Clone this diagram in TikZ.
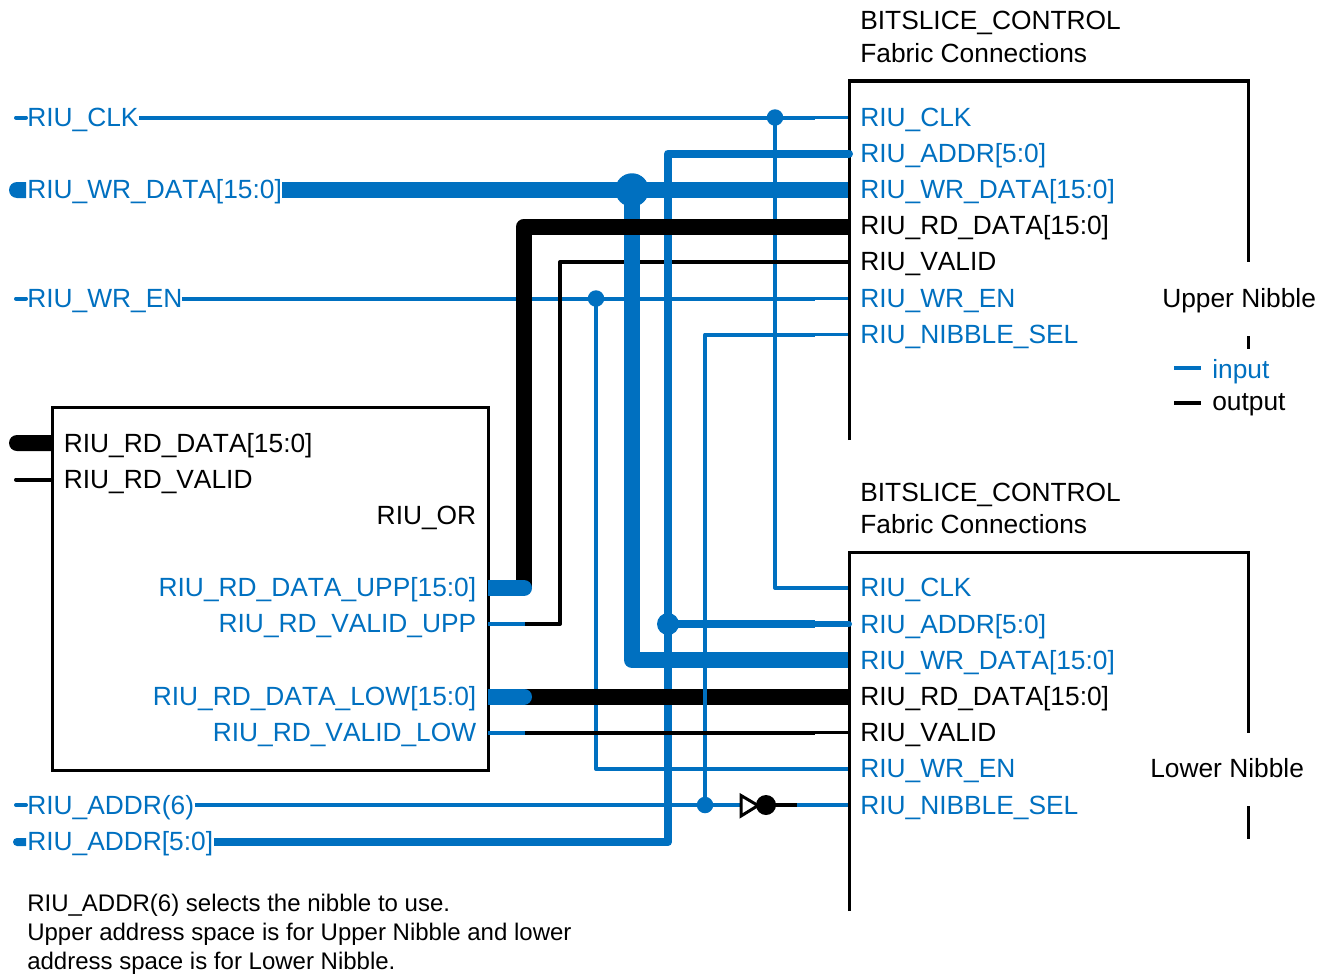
\documentclass[tikz,border=0pt]{standalone}
\usepackage{fontspec}
\setmainfont[Kerning=Off]{Liberation Sans}
\definecolor{riublue}{HTML}{0070C0}
\tikzset{
  wire/.style={line width=3pt,line join=round},
  wireb/.style={line width=6pt,line join=round},
  wirew/.style={line width=12pt,line join=round},
  stub/.style={line width=2.5pt},
  frame/.style={line width=2.25pt,black,line join=miter},
  blu/.style={draw=riublue},
  blk/.style={draw=black},
  dotb/.style={circle,fill=riublue,inner sep=0pt,minimum size=#1},
  lab/.style={inner sep=0pt,anchor=base west,font=\fontsize{19.75}{24}\selectfont,text=black},
  labr/.style={lab,anchor=base east},
  note/.style={inner sep=0pt,anchor=base west,font=\fontsize{18}{22}\selectfont,text=black},
  inp/.style={text=riublue}
}
\begin{document}
\begin{tikzpicture}[x=0.75pt,y=-0.75pt]
\useasboundingbox (0,0) rectangle (1330,974);
% ---------- junction and end coordinates
\foreach \n/\y in {a/117.5,b/153.5,c/190,d/226.5,e/262,f/298.5,g/334.5,
                   p/588,q/624,r/660,s/696.5,t/732.5,u/769,v/805}{
  \coordinate (\n M) at (815,\y);
  \coordinate (\n E) at (848,\y);
}
\coordinate (clkL) at (139,117.5);
\coordinate (clkJ) at (775,117.5);
\coordinate (clkC) at (775,588);
\coordinate (wenL) at (182,298.5);
\coordinate (wenJ) at (596,298.5);
\coordinate (wenC) at (596,769);
\coordinate (vuS)  at (488,624);
\coordinate (vuM)  at (525,624);
\coordinate (vuC)  at (560,624);
\coordinate (vuT)  at (560,262);
\coordinate (wdL)  at (282,190);
\coordinate (wdJ)  at (632,190);
\coordinate (wdC)  at (632,660);
\coordinate (adL)  at (214,842);
\coordinate (adC)  at (668,842);
\coordinate (adT)  at (668,153.5);
\coordinate (adJ)  at (668,624);
\coordinate (duS)  at (488,588);
\coordinate (duC)  at (524,588);
\coordinate (duT)  at (524,226.5);
\coordinate (dlS)  at (488,696.5);
\coordinate (dlC)  at (524,696.5);
\coordinate (vlS)  at (488,732.5);
\coordinate (vlM)  at (525,732.5);
\coordinate (a6L)  at (195,805);
\coordinate (a6J)  at (705,805);
\coordinate (a6I)  at (741,805);
\coordinate (a6B)  at (766,805);
\coordinate (a6M)  at (797,805);
\coordinate (selT) at (705,334.5);
% ---------- left stubs
\draw[wire,blu,line cap=round] (16,117.5) coordinate (l1) -- (26,117.5) coordinate (l1e);
\draw[wire,blu,line cap=round] (16,298.5) coordinate (l2) -- (26,298.5) coordinate (l2e);
\draw[wire,blu,line cap=round] (16,805) coordinate (l3) -- (26,805) coordinate (l3e);
\fill[riublue] (26,182) -- (17,182) arc (270:90:8) -- (26,198) -- cycle;
\fill[riublue] (26,838) -- (17,838) arc (270:90:4) -- (26,846) -- cycle;
\fill[black] (52,435) -- (17,435) arc (270:90:8) -- (52,451) -- cycle;
\draw[wire,blk,line cap=round] (16,479.5) coordinate (l4) -- (52,479.5) coordinate (l4e);
% ---------- frames
\draw[frame] (849,440) -- (849,81) -- (1248,81) -- (1248,262);
\draw[frame] (1248,336) -- (1248,349);
\draw[frame] (849,911) -- (849,552) -- (1248,552) -- (1248,733);
\draw[frame] (1248,806) -- (1248,839);
\node[draw,line width=2.25pt,outer sep=0pt,minimum width=436*0.75pt,minimum height=363*0.75pt,inner sep=0pt,anchor=north west] (orbox) at (52,407) {};
% ---------- wires, back to front
\draw[wire,blu] (clkL) -- (clkJ) -- (aM);
\draw[stub,blu] (aM) -- (aE);
\draw[wire,blu] (clkJ) -- (clkC) -- (pM);
\draw[stub,blu] (pM) -- (pE);
\draw[wire,blu] (wenL) -- (fM);
\draw[stub,blu] (fM) -- (fE);
\draw[wire,blu] (wenJ) -- (wenC) -- (uM);
\draw[stub,blu] (uM) -- (uE);
\draw[wire,blu] (vuS) -- (vuM);
\draw[wire,blk] (vuM) -- (vuC) -- (vuT) -- (eM);
\draw[stub,blk] (eM) -- (eE);
\draw[wirew,blu] (wdL) -- (cE);
\draw[wirew,blu] (wdJ) -- (wdC) -- (rE);
\draw[wireb,blu] (adL) -- (adC) -- (adT) -- (bM);
\draw[wireb,blu,line cap=round] (bM) -- (849,153.5) coordinate (bX);
\draw[wireb,blu] (adJ) -- (qM);
\draw[line width=4.5pt,blu,line cap=round] (qM) -- (849,624) coordinate (qX);
\draw[wirew,blk] (duC) -- (duT) -- (dE);
\draw[wirew,blk] (dlC) -- (sE);
\draw[wirew,blu,line cap=round] (duC) -- (506,588) coordinate (duH);
\draw[wirew,blu] (duS) -- (duH);
\draw[wirew,blu,line cap=round] (dlC) -- (506,696.5) coordinate (dlH);
\draw[wirew,blu] (dlS) -- (dlH);
\draw[wire,blu] (a6L) -- (a6I);
\draw[wire,blu] (gM) -- (selT) -- (a6J);
\draw[stub,blu] (gM) -- (gE);
\draw[wire,blu] (vlS) -- (vlM);
\draw[wire,blk] (vlM) -- (tM);
\draw[stub,blk] (tM) -- (tE);
\draw[wire,blk] (a6B) -- (a6M);
\draw[wire,blu] (a6M) -- (vM);
\draw[stub,blu] (vM) -- (vE);
% ---------- dots and inverter
\node[dotb=16.5*0.75pt] (j1) at (clkJ) {};
\node[dotb=16.5*0.75pt] (j2) at (wenJ) {};
\node[dotb=16.5*0.75pt] (j3) at (a6J) {};
\node[dotb=33.5*0.75pt] (j4) at (wdJ) {};
\node[dotb=22*0.75pt] (j5) at (adJ) {};
\draw[fill=white,line width=2.25pt,line join=miter] (741,795.5) -- (758,805.5) -- (741,816) -- cycle;
\node[circle,fill=black,inner sep=0pt,minimum size=20*0.75pt] (bub) at (a6B) {};
% ---------- legend
\coordinate (kia) at (1174,368); \coordinate (kib) at (1201,368);
\coordinate (koa) at (1174,403); \coordinate (kob) at (1201,403);
\draw[wire,blu] (kia) -- (kib);
\draw[wire,blk] (koa) -- (kob);
% ---------- left signal names
\node[lab,inp] (t1) at (27,126) {RIU\_CLK};
\node[lab,inp] (t2) at (27,198) {RIU\_WR\_DATA[15:0]};
\node[lab,inp] (t3) at (27,307) {RIU\_WR\_EN};
\node[lab,inp] (t4) at (27,814) {RIU\_ADDR(6)};
\node[lab,inp] (t5) at (27,850) {RIU\_ADDR[5:0]};
% ---------- RIU_OR box
\node[lab] (o1) at (63.5,452) {RIU\_RD\_DATA[15:0]};
\node[lab] (o2) at (63.5,488) {RIU\_RD\_VALID};
\node[labr] (o3) at (476.5,524) {RIU\_OR};
\node[labr,inp] (o4) at (476.5,596) {RIU\_RD\_DATA\_UPP[15:0]};
\node[labr,inp] (o5) at (476.5,632.5) {RIU\_RD\_VALID\_UPP};
\node[labr,inp] (o6) at (476.5,705) {RIU\_RD\_DATA\_LOW[15:0]};
\node[labr,inp] (o7) at (476.5,741) {RIU\_RD\_VALID\_LOW};
% ---------- upper block
\node[lab] (ua) at (860,30) {BITSLICE\_CONTROL};
\node[lab] (ub) at (860,62.5) {Fabric Connections};
\node[lab,inp] (u1) at (860,126) {RIU\_CLK};
\node[lab,inp] (u2) at (860,162) {RIU\_ADDR[5:0]};
\node[lab,inp] (u3) at (860,198) {RIU\_WR\_DATA[15:0]};
\node[lab] (u4) at (860,234) {RIU\_RD\_DATA[15:0]};
\node[lab] (u5) at (860,270) {RIU\_VALID};
\node[lab,inp] (u6) at (860,307) {RIU\_WR\_EN};
\node[lab,inp] (u7) at (860,343) {RIU\_NIBBLE\_SEL};
\node[lab] (un) at (1162,307) {Upper Nibble};
% ---------- legend text
\node[lab,inp] (ki) at (1212,378) {input};
\node[lab] (ko) at (1212,410.5) {output};
% ---------- lower block
\node[lab] (la) at (860,501) {BITSLICE\_CONTROL};
\node[lab] (lb) at (860,533.5) {Fabric Connections};
\node[lab,inp] (l1t) at (860,596) {RIU\_CLK};
\node[lab,inp] (l2t) at (860,633) {RIU\_ADDR[5:0]};
\node[lab,inp] (l3t) at (860,669) {RIU\_WR\_DATA[15:0]};
\node[lab] (l4t) at (860,705) {RIU\_RD\_DATA[15:0]};
\node[lab] (l5t) at (860,741) {RIU\_VALID};
\node[lab,inp] (l6t) at (860,777) {RIU\_WR\_EN};
\node[lab,inp] (l7t) at (860,814) {RIU\_NIBBLE\_SEL};
\node[lab] (ln) at (1150,777) {Lower Nibble};
% ---------- note
\node[note] (n1) at (27,911) {RIU\_ADDR(6) selects the nibble to use.};
\node[note] (n2) at (27,940) {Upper address space is for Upper Nibble and lower};
\node[note] (n3) at (27,969) {address space is for Lower Nibble.};
\end{tikzpicture}
\end{document}
